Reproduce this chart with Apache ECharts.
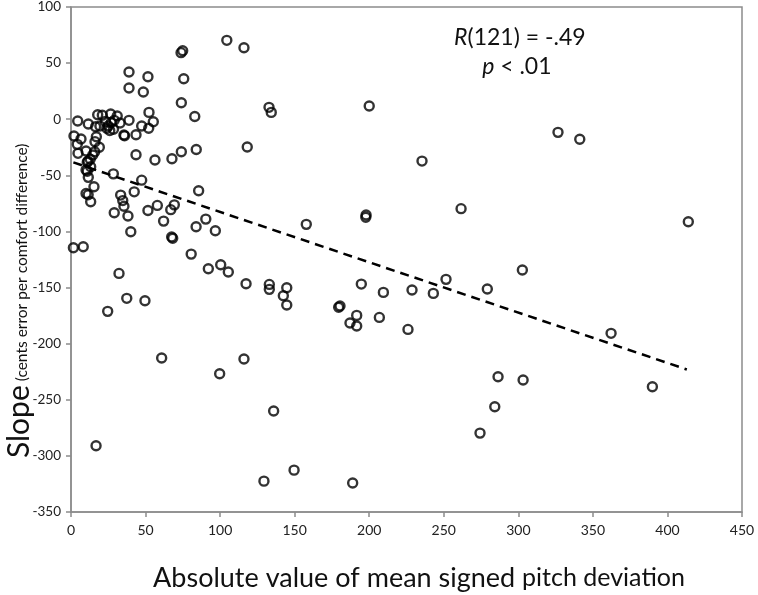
<!DOCTYPE html>
<html>
<head>
<meta charset="utf-8">
<script src="https://cdn.jsdelivr.net/npm/echarts@6/dist/echarts.min.js"></script>
<style>html,body{margin:0;padding:0;background:#fff}#c{width:758px;height:595px}</style>
</head>
<body>
<div id="c"></div>
<script>
// Absolute value of mean signed pitch deviation
var xVals = [104.5,116,73.8,74.9,38.9,51.6,75.6,38.9,48.5,74,52.3,83,55.2,38.9,47.4,52.1,43.6,35.5,35.9,32.9,
  43.6,56.3,67.7,74,84,47.4,42.4,85.6,57.9,69.3,66.9,51.6,38.2,62.1,90.4,83.9,96.8,40.1,67.5,68.2,
  34.7,35.5,33.3,17.9,21,26.6,31,4.5,11.6,16.5,19.4,23,25,27,28.5,26,24,29,2,6.7,
  4.2,17,16.1,19,10.1,15.9,4.7,11.4,10.9,12.9,14.6,13.2,10.1,10.9,11.6,15.4,10.1,11.5,13.2,28.4,
  1.6,8.2,29,80.6,32.2,37.4,49.6,24.6,60.8,16.8,132.8,134.3,200,118.2,92.1,100.4,105.5,117.4,133,133,
  144.7,142.4,144.7,157.8,180.4,179.5,191.6,187.1,191.6,194.7,197.9,197.7,99.7,116,135.9,149.6,129.4,188.9,235.4,326.6,
  341.2,261.6,414,302.7,251.5,279.2,209.5,228.7,243,206.8,226,362.2,286.4,303.2,284.2,274.3,389.9];
// Slope (cents error per comfort difference)
var yVals = [70.3,63.7,59.3,61.0,42.1,37.9,36.1,27.8,24.2,14.7,6.1,2.4,-2.2,-1,-6.1,-8.1,-13.8,-14,-14.8,-3.4,
  -31.6,-36.4,-35.2,-29,-27,-54.3,-64.7,-63.8,-76.8,-76.3,-80.6,-81.3,-86.2,-90.8,-89,-95.8,-99.4,-100.3,-105,-106,
  -72.5,-77.5,-67.6,4,3.5,4.6,2.9,-1.6,-4.3,-6.7,-6,-2,-6,-3,-9,-10,-8,-1,-15,-17.6,
  -22.4,-15.6,-20,-25,-28.3,-29,-30.4,-37.3,-38.4,-35.7,-31.9,-42.3,-45.3,-46.4,-51.8,-60.2,-66.2,-67.3,-73.5,-48.7,
  -114.5,-113.6,-83.3,-120.2,-137.4,-159.6,-161.7,-171.2,-212.8,-291,10.6,6.1,11.8,-24.8,-133.2,-129.7,-136.2,-146.6,-147.2,-151.6,
  -150.2,-157.3,-165.6,-93.7,-166.5,-167.6,-174.8,-181.6,-184.3,-146.9,-85.4,-87.4,-226.8,-213.7,-260,-312.7,-322.5,-324.2,-37.3,-11.7,
  -17.9,-79.7,-91.3,-134.4,-142.7,-151.3,-154.3,-152.2,-155.2,-176.6,-187.3,-190.8,-229.5,-232.4,-256.2,-279.7,-238.4];
// Linear trend line end points
var trendX = [1.6, 413];
var trendY = [-38.5, -223];
// Axis ranges / tick steps
var xTicks = [0, 450, 50];
var yTicks = [-350, 100, 50];
var statLines = ['R(121) = -.49', 'p < .01'];
var xTitle = ['Absolute value of mean signed ', 'pitch deviation'];
var yTitle = ['Slope', ' (cents error per comfort difference)'];

var FONT = 'Lato, "Open Sans", sans-serif';
var points = xVals.map(function (x, i) { return [x, yVals[i]]; });
var trend = trendX.map(function (x, i) { return [x, trendY[i]]; });

var chart = echarts.init(document.getElementById('c'), null, {renderer: 'canvas'});
chart.setOption({
  animation: false,
  backgroundColor: '#fff',
  grid: {left: 71, right: 16, top: 7, bottom: 83, show: true, borderColor: '#8c8c8c', borderWidth: 1.5, containLabel: false},
  xAxis: {
    type: 'value', min: xTicks[0], max: xTicks[1], interval: xTicks[2],
    axisLine: {show: true, onZero: false, lineStyle: {color: '#8c8c8c', width: 1.5}},
    axisTick: {show: true, inside: false, length: 5, lineStyle: {color: '#8c8c8c', width: 1.5}},
    splitLine: {show: false},
    axisLabel: {color: '#222', fontFamily: FONT, fontSize: 14, margin: 11}
  },
  yAxis: {
    type: 'value', min: yTicks[0], max: yTicks[1], interval: yTicks[2],
    axisLine: {show: true, onZero: false, lineStyle: {color: '#8c8c8c', width: 1.5}},
    axisTick: {show: true, inside: false, length: 5, lineStyle: {color: '#8c8c8c', width: 1.5}},
    splitLine: {show: false},
    axisLabel: {color: '#222', fontFamily: FONT, fontSize: 13.5, margin: 10}
  },
  series: [
    {
      type: 'scatter', data: points, symbol: 'circle', symbolSize: 9,
      itemStyle: {color: 'rgba(0,0,0,0)', borderColor: '#000', borderWidth: 2.4},
      z: 3
    },
    {
      type: 'line', data: trend, symbol: 'none', silent: true,
      lineStyle: {color: '#000', width: 2.5, type: [9, 6]},
      z: 2
    }
  ]
});

var p1 = chart.convertToPixel({gridIndex: 0}, [301, 100]);
var ital = {fontFamily: FONT, fontSize: 23, fontStyle: 'italic', fill: '#111'};
var norm = {fontFamily: FONT, fontSize: 23, fill: '#111'};
chart.setOption({graphic: [
  {type: 'text', id: 'ytitle', x: 34, y: 458, rotation: Math.PI / 2,
   style: {
     text: '{a|' + yTitle[0] + '}{b|' + yTitle[1] + '}', align: 'left', verticalAlign: 'bottom',
     rich: {
       a: {fontFamily: FONT, fontSize: 30, fill: '#111', verticalAlign: 'bottom'},
       b: {fontFamily: FONT, fontSize: 15.5, fill: '#111', verticalAlign: 'bottom', padding: [0, 0, 4, 0]}
     }
   }},
  {type: 'text', id: 'xtitle', x: 419, y: 578,
   style: {
     text: '{a|' + xTitle[0] + '}{b|' + xTitle[1] + '}', align: 'center', verticalAlign: 'middle',
     rich: {
       a: {fontFamily: FONT, fontSize: 27, fill: '#111', verticalAlign: 'bottom'},
       b: {fontFamily: FONT, fontSize: 25, fill: '#111', verticalAlign: 'bottom', padding: [0, 0, 1, 0]}
     }
   }},
  {type: 'text', id: 'r', x: p1[0], y: 38,
   style: {text: '{i|R}{n|' + statLines[0].slice(1) + '}', align: 'center', verticalAlign: 'middle',
     rich: {i: ital, n: norm}}},
  {type: 'text', id: 'p', x: p1[0] - 3, y: 67,
   style: {text: '{i|p}{n|' + statLines[1].slice(1) + '}', align: 'center', verticalAlign: 'middle',
     rich: {i: ital, n: norm}}}
]});
</script>
</body>
</html>
